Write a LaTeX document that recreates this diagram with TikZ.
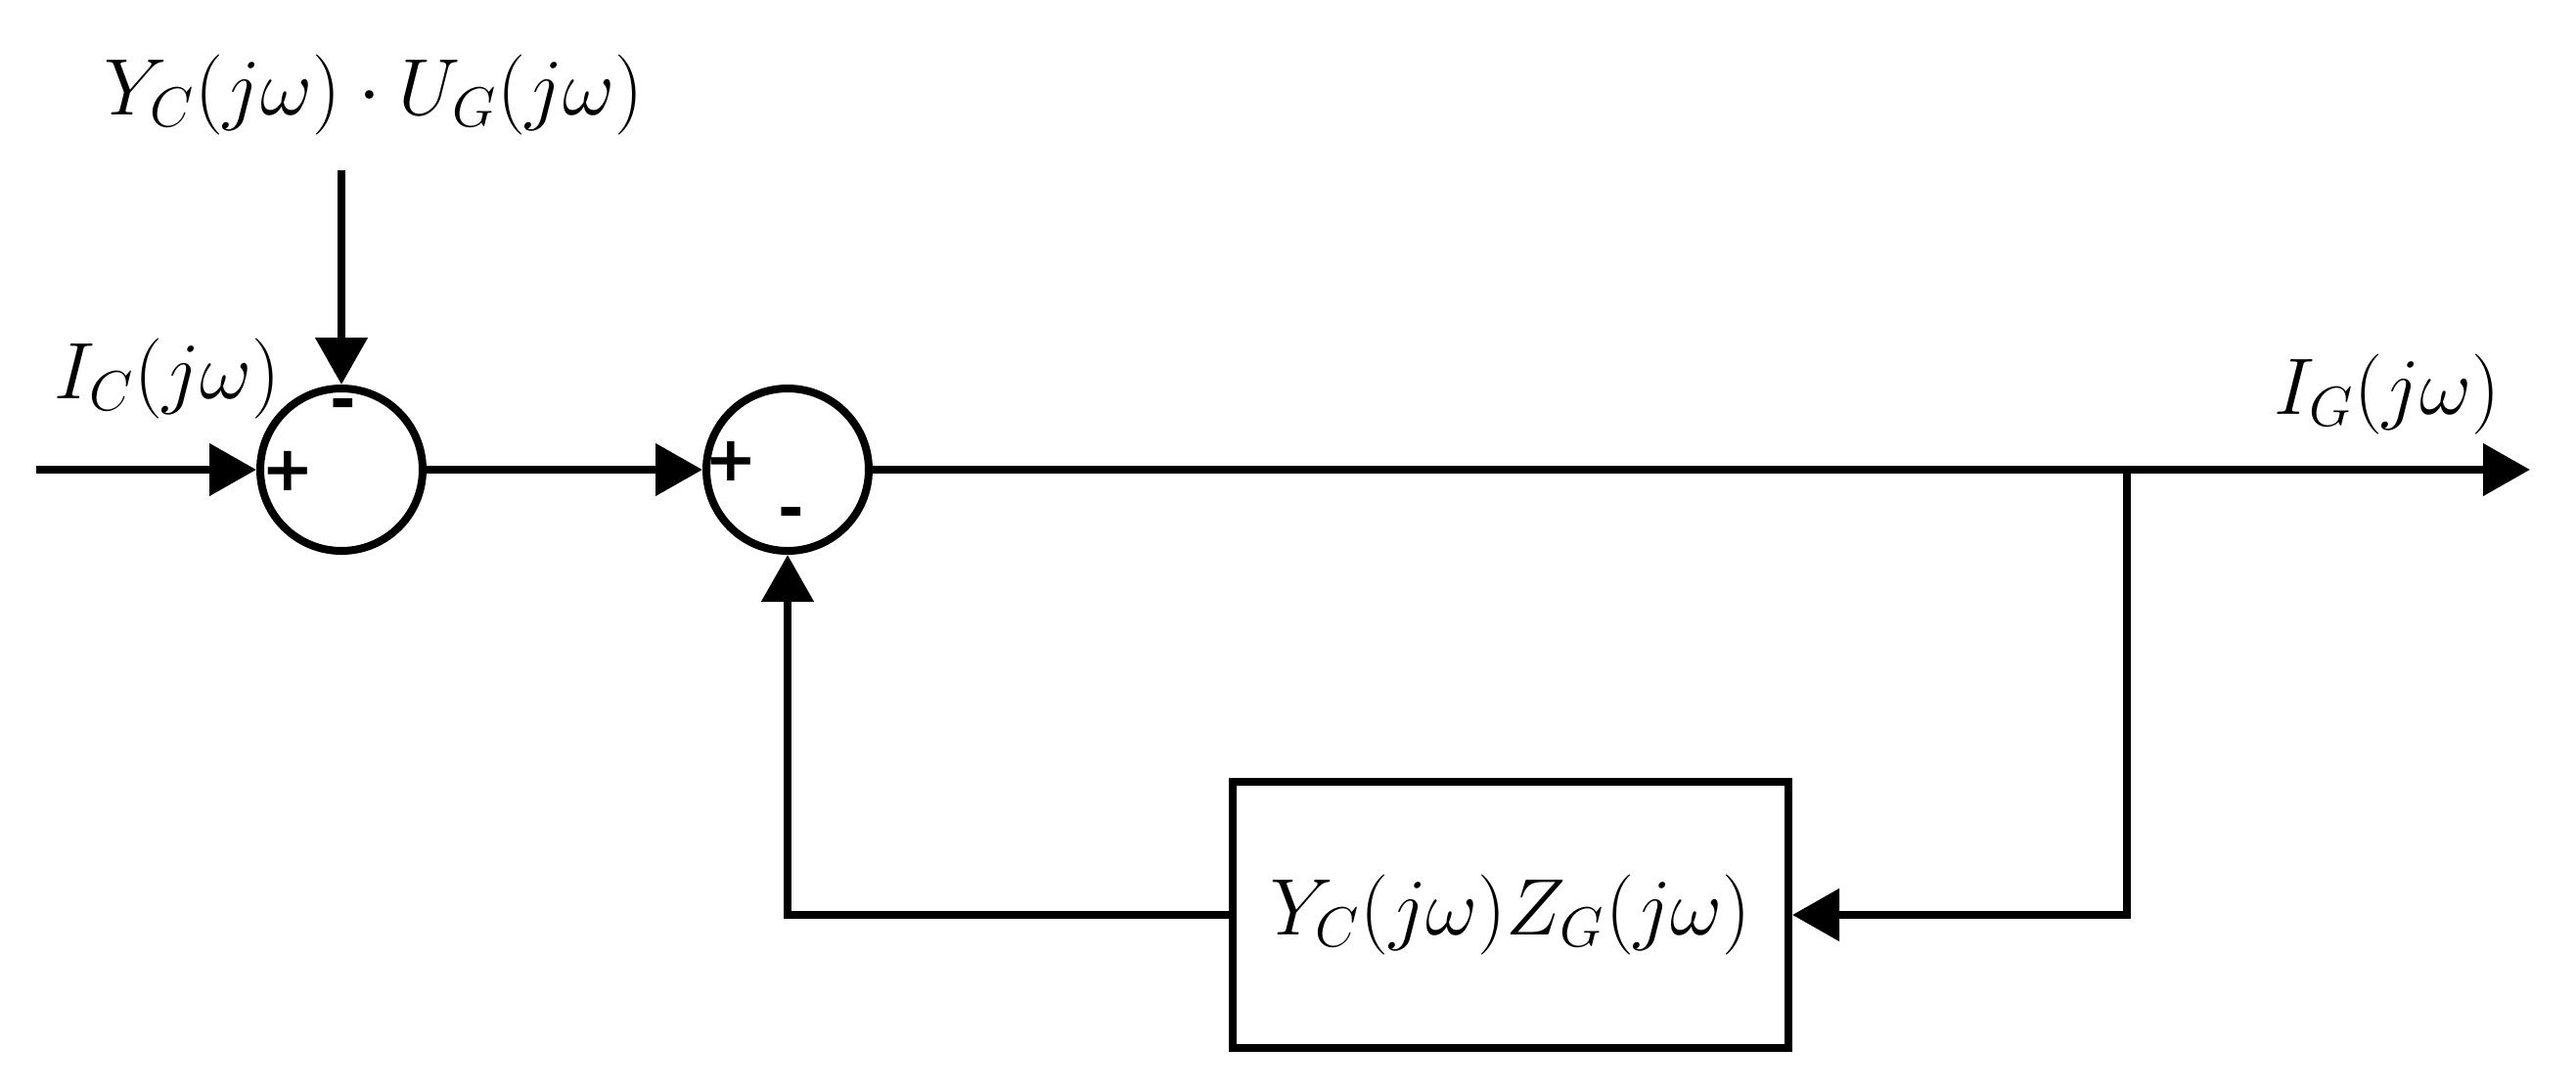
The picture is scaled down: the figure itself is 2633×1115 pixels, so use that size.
\documentclass[tikz,border=0pt]{standalone}
\usepackage{fix-cm}
\usepackage{fontspec}
\newfontfamily\signfont{DejaVu Sans}
\usetikzlibrary{arrows.meta}
\tikzset{every picture/.style={line width=2pt}}

\begin{document}
\begin{tikzpicture}[x=0.25pt,y=0.25pt,yscale=-1,xscale=1,
  sumnode/.style={draw,circle,minimum size=41.5pt,inner sep=0pt},
  blocknode/.style={draw,minimum width=142pt,minimum height=68pt,inner sep=0pt,font=\fontsize{20.5}{24}\selectfont},
  signal/.style={-{Triangle[length=12pt,width=13pt]}},
  signmark/.style={inner sep=0pt,font=\signfont\bfseries\fontsize{16}{16}\selectfont},
  lbl/.style={inner sep=0pt,font=\fontsize{20.5}{24}\selectfont}]
%set diagram size
\path[use as bounding box] (0,0) rectangle (2633,1115);

%Shape: Circle [id:sum1]
\node [sumnode] (sum1) at (349,480) {};
%Shape: Circle [id:sum2]
\node [sumnode] (sum2) at (805,480) {};
%Shape: Rectangle [id:block]
\node [blocknode] (block) at (1544,935) {$Y_C(j\omega)Z_G(j\omega)$};

%Free ends
\coordinate (in) at (37,480);
\coordinate (dist) at (349,174);
\coordinate (branch) at (2174,480);
\coordinate (out) at (2586,480);

%Straight Lines
\draw [signal] (in) -- (sum1);
\draw [signal] (dist) -- (sum1);
\draw [signal] (sum1) -- (sum2);
\draw [signal] (sum2) -- (out);
\draw [signal] (branch) |- (block);
\draw [signal] (block) -| (sum2);

% Text Node
\node [signmark] (p1) at (294,481) {+};
\node [signmark] (m1) at (351,419) {-};
\node [signmark] (p2) at (747,471) {+};
\node [signmark] (m2) at (809,530) {-};
% Text Node
\node [lbl] (ldist) at (382,97) {$Y_C(j\omega)\cdot U_G(j\omega)$};
\node [lbl] (lin) at (171,387) {$I_C(j\omega)$};
\node [lbl] (lout) at (2440,403) {$I_G(j\omega)$};

\end{tikzpicture}
\end{document}
